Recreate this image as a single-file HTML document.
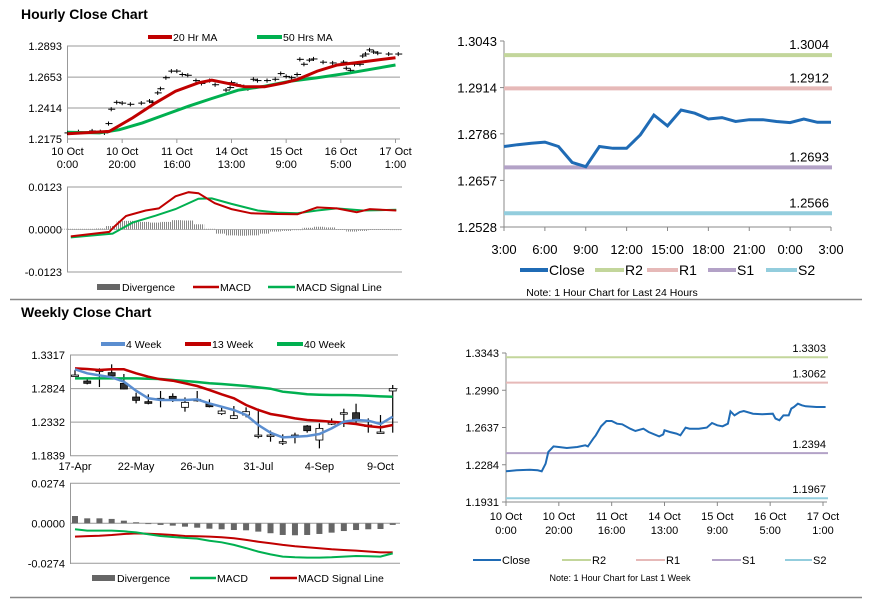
<!DOCTYPE html>
<html><head><meta charset="utf-8">
<style>
body{margin:0;background:#fff;}
svg{display:block;font-family:"Liberation Sans",Arial,sans-serif;}
</style></head>
<body>
<svg id="root" width="873" height="601" viewBox="0 0 873 601" xmlns="http://www.w3.org/2000/svg">
<defs><pattern id="stripes" width="2" height="4" patternUnits="userSpaceOnUse"><rect x="0" y="0" width="1" height="4" fill="#888"/></pattern></defs>
<rect x="0" y="0" width="873" height="601" fill="#fff"/>
<text x="21" y="19" font-size="14" font-weight="bold" fill="#000">Hourly Close Chart</text>
<text x="21" y="317" font-size="14" font-weight="bold" fill="#000">Weekly Close Chart</text>
<line x1="10" y1="299.5" x2="862" y2="299.5" stroke="#888" stroke-width="1.5"/>
<line x1="10" y1="597.5" x2="862" y2="597.5" stroke="#888" stroke-width="1.5"/>
</svg>
<script>
// ---------- Hourly (last week) close series ----------
const hourlyHours = [0,4,9,12,13.5,15,16,18,20,23,27,30,31,33,34,36,38,40,42,44,47,49,52,54,58,59.5,60,62,64.5,66,68,69.5,73,76,78,80,82,84,85,86.5,88.5,90,93.5,97,101,102,103.5,105,107,108,109,110.5,112,113.5,117.5,121];
const hourlyClose = [1.2222,1.2231,1.2237,1.2231,1.2222,1.2294,1.2405,1.2458,1.2452,1.2443,1.2452,1.2468,1.2458,1.2531,1.2563,1.2648,1.2699,1.2699,1.2673,1.2667,1.2626,1.2604,1.2626,1.2594,1.2553,1.2572,1.2610,1.2594,1.2579,1.2563,1.2636,1.2626,1.2626,1.2636,1.2680,1.2658,1.2648,1.2673,1.2790,1.2752,1.2784,1.2793,1.2768,1.2762,1.2768,1.2721,1.2705,1.2752,1.2752,1.2816,1.2831,1.2863,1.2847,1.2838,1.2831,1.2831];
const ma20Hours = [0,5.7,15.3,23.8,32.2,39.5,47.9,52.8,57.6,64.9,72.1,79.4,84.2,91.4,98.7,108.4,120];
const ma20Values = [1.2216,1.2222,1.2234,1.2338,1.2454,1.2544,1.2609,1.2630,1.2609,1.2578,1.2578,1.2609,1.2635,1.2699,1.2746,1.2772,1.2803];
const ma50Hours = [0,11.7,19,27.4,35.9,44.3,52.8,62.4,72.1,81.7,91.4,103.5,120];
const ma50Values = [1.2227,1.2222,1.2247,1.2299,1.2364,1.2428,1.2488,1.2552,1.2583,1.2622,1.2648,1.2686,1.2746];
const hourTickLabels = [["10 Oct","0:00"],["10 Oct","20:00"],["11 Oct","16:00"],["14 Oct","13:00"],["15 Oct","9:00"],["16 Oct","5:00"],["17 Oct","1:00"]];
const hourTickHours = [0,20,40,60,80,100,120];
const h1YTicks = [1.2893,1.2653,1.2414,1.2175];
const macdHHours = [1.2,15.3,17.1,21.4,28.6,33.4,39.5,44.3,47.9,53.9,60,67.2,76.8,84.1,91.3,98.5,105.8,110.6,120.3];
const macdHValues = [-0.0020,-0.0007,0.0008,0.0039,0.0055,0.0061,0.0096,0.0108,0.0105,0.0076,0.0059,0.0047,0.0045,0.0044,0.0064,0.0061,0.0050,0.0059,0.0055];
const sigHHours = [1.2,16.5,23.8,32.2,39.5,47.9,52.8,60,69.6,76.8,84.1,91.3,98.5,108.2,120.3];
const sigHValues = [-0.0023,-0.0012,0.0020,0.0040,0.0059,0.0089,0.0090,0.0074,0.0055,0.0049,0.0047,0.0055,0.0061,0.0055,0.0057];
const divHHours = [0,4,8,12,16,20,24,28,32,36,40,44,48,52,56,60,64,68,72,76,80,84,88,92,96,100,104,108,112,116,120];
const divHValues = [0.0002,0.0002,0.0002,0.0003,0.0010,0.0025,0.0025,0.0022,0.0020,0.0022,0.0027,0.0026,0.0015,0.0002,-0.0012,-0.0017,-0.0018,-0.0017,-0.0012,-0.0006,-0.0004,-0.0002,0.0005,0.0008,0.0006,0.0001,-0.0006,-0.0004,0.0001,0.0001,0.0000];
const macdHTicks = [0.0123,0.0000,-0.0123];
const macdHTickLabels = ["0.0123","0.0000","-0.0123"];

// ---------- 24h chart ----------
const dayLabels = ["3:00","6:00","9:00","12:00","15:00","18:00","21:00","0:00","3:00"];
const dayClose = [1.2751,1.2756,1.2760,1.2763,1.2751,1.2707,1.2695,1.2751,1.2746,1.2746,1.2783,1.2838,1.2808,1.2852,1.2843,1.2827,1.2831,1.2820,1.2825,1.2825,1.2820,1.2817,1.2827,1.2818,1.2818];
const dayYTicks = [1.3043,1.2914,1.2786,1.2657,1.2528];
const dayLevels = [1.3004,1.2912,1.2693,1.2566];
const weekLevels = [1.3303,1.3062,1.2394,1.1967];
const levelNames = ["R2","R1","S1","S2"];
const weekYTicks = [1.3343,1.2990,1.2637,1.2284,1.1931];

// ---------- Weekly ----------
const weekLabels = ["17-Apr","22-May","26-Jun","31-Jul","4-Sep","9-Oct"];
const weekLabelIdx = [0,5,10,15,20,25];
const wOpen  = [1.3023,1.2935,1.3097,1.3058,1.2901,1.2700,1.2632,1.2681,1.2710,1.2549,1.2666,1.2598,1.2456,1.2387,1.2436,1.2142,1.2142,1.2045,1.2142,1.2275,1.2069,1.2324,1.2470,1.2470,1.2289,1.2187,1.2789];
const wClose = [1.3023,1.2901,1.3097,1.3009,1.2818,1.2651,1.2607,1.2681,1.2676,1.2622,1.2666,1.2558,1.2495,1.2426,1.2485,1.2142,1.2142,1.2045,1.2142,1.2206,1.2240,1.2324,1.2470,1.2353,1.2289,1.2187,1.2823];
const wHigh  = [1.3097,1.2960,1.3122,1.3180,1.3038,1.2764,1.2740,1.2789,1.2754,1.2695,1.2789,1.2666,1.2549,1.2568,1.2549,1.2529,1.2207,1.2153,1.2177,1.2289,1.2314,1.2387,1.2529,1.2602,1.2387,1.2436,1.2877];
const wLow   = [1.3009,1.2886,1.2847,1.2974,1.2813,1.2607,1.2593,1.2549,1.2627,1.2485,1.2632,1.2548,1.2436,1.2377,1.2402,1.2094,1.2045,1.1996,1.2020,1.2177,1.1947,1.2289,1.2260,1.2323,1.2177,1.2177,1.2177];
const ma4w  = [1.3107,1.3048,1.3018,1.2989,1.2925,1.2793,1.2681,1.2656,1.2656,1.2656,1.2666,1.2607,1.2558,1.2510,1.2436,1.2289,1.2177,1.2108,1.2118,1.2128,1.2157,1.2240,1.2338,1.2363,1.2353,1.2304,1.2412];
const ma13w = [1.3121,1.3111,1.3097,1.3107,1.3107,1.3048,1.2999,1.2960,1.2940,1.2901,1.2862,1.2803,1.2740,1.2681,1.2583,1.2510,1.2451,1.2421,1.2387,1.2363,1.2353,1.2338,1.2323,1.2304,1.2274,1.2255,1.2289];
const ma40w = [1.2974,1.2974,1.2974,1.2974,1.2974,1.2974,1.2969,1.2965,1.2950,1.2935,1.2920,1.2901,1.2891,1.2876,1.2862,1.2842,1.2822,1.2779,1.2760,1.2740,1.2735,1.2730,1.2730,1.2725,1.2720,1.2710,1.2705];
const wYTicks = [1.3317,1.2824,1.2332,1.1839];
const wDiv  = [0.0050,0.0034,0.0034,0.0030,0.0018,0.0007,-0.0005,-0.0011,-0.0016,-0.0023,-0.0030,-0.0037,-0.0041,-0.0046,-0.0048,-0.0057,-0.0068,-0.0080,-0.0082,-0.0080,-0.0073,-0.0064,-0.0053,-0.0046,-0.0041,-0.0039,-0.0011];
const wMacd = [-0.0041,-0.0050,-0.0050,-0.0050,-0.0055,-0.0062,-0.0075,-0.0087,-0.0094,-0.0100,-0.0105,-0.0119,-0.0130,-0.0148,-0.0170,-0.0194,-0.0213,-0.0228,-0.0233,-0.0235,-0.0235,-0.0233,-0.0228,-0.0224,-0.0226,-0.0228,-0.0206];
const wSig  = [-0.0091,-0.0088,-0.0085,-0.0080,-0.0073,-0.0069,-0.0071,-0.0075,-0.0080,-0.0087,-0.0089,-0.0091,-0.0096,-0.0103,-0.0114,-0.0126,-0.0137,-0.0148,-0.0157,-0.0164,-0.0171,-0.0178,-0.0183,-0.0187,-0.0193,-0.0199,-0.0199];
const wMacdTicks = [0.0274,0.0000,-0.0274];
const wMacdTickLabels = ["0.0274","0.0000","-0.0274"];

const NS="http://www.w3.org/2000/svg";
const root=document.getElementById('root');
function mk(tag,a){const e=document.createElementNS(NS,tag);for(const k in a)e.setAttribute(k,a[k]);root.appendChild(e);return e;}
function txt(x,y,s,size,anchor){const e=mk('text',{x:x,y:y,'font-size':size,'text-anchor':anchor||'start',fill:'#000'});e.textContent=s;return e;}
function pts(xs,ys,fx,fy){return xs.map((v,i)=>fx(v).toFixed(1)+','+fy(ys[i]).toFixed(1)).join(' ');}
let el;

// ===== Hourly candle chart =====
const h1x=h=>67.5+h/120*(395.5-67.5);
const h1y=v=>46+(1.2893-v)/0.0718*93;
h1YTicks.forEach((t,i)=>{
  el=mk('line',{x1:67,y1:h1y(t),x2:400,y2:h1y(t),stroke:'#999','stroke-width':1});
  
  
  el=txt(62,h1y(t)+4,t.toFixed(4),11,'end');
  
  
});
el=mk('line',{x1:67.5,y1:46,x2:67.5,y2:139,stroke:'#999'});


hourTickHours.forEach((h,i)=>{
  el=mk('line',{x1:h1x(h),y1:139,x2:h1x(h),y2:143,stroke:'#999'});
  
  
  el=txt(h1x(h),155,hourTickLabels[i][0],11,'middle');
  
  
  el=txt(h1x(h),168,hourTickLabels[i][1],11,'middle');
  
  
});
hourlyHours.forEach((h,i)=>{
  const v=hourlyClose[i];
  el=mk('line',{x1:h1x(h),y1:h1y(v+0.0016),x2:h1x(h),y2:h1y(v-0.0016),stroke:'#000','stroke-width':1});
  
  
  el=mk('line',{x1:h1x(h)-3,y1:h1y(v),x2:h1x(h)+4,y2:h1y(v),stroke:'#000','stroke-width':1});
  
  
});
el=mk('polyline',{points:pts(ma50Hours,ma50Values,h1x,h1y),fill:'none',stroke:'#00b050','stroke-width':3});


el=mk('polyline',{points:pts(ma20Hours,ma20Values,h1x,h1y),fill:'none',stroke:'#c00000','stroke-width':3});


el=mk('line',{x1:148,y1:37,x2:172,y2:37,stroke:'#c00000','stroke-width':4});


el=txt(173,41,'20 Hr MA',10.5);


el=mk('line',{x1:257,y1:37,x2:282,y2:37,stroke:'#00b050','stroke-width':4});


el=txt(283,41,'50 Hrs MA',10.5);



// ===== Hourly MACD =====
const m1y=v=>229.5-v/0.0123*42.5;
macdHTicks.forEach((t,i)=>{
  el=mk('line',{x1:67,y1:m1y(t),x2:402,y2:m1y(t),stroke:i===1?'#bbb':'#999','stroke-width':1});
  
  
  el=txt(62,m1y(t)+4,macdHTickLabels[i],11,'end');
  
  
});
el=mk('line',{x1:67.5,y1:187,x2:67.5,y2:272,stroke:'#999'});


divHHours.forEach((h,i)=>{
  const v=divHValues[i];
  el=mk('rect',{x:h1x(h)-5.5,y:Math.min(m1y(v),m1y(0)),width:11,height:Math.max(0.6,Math.abs(m1y(v)-m1y(0))),fill:'url(#stripes)'});
  
  
});
el=mk('polyline',{points:pts(sigHHours,sigHValues,h1x,m1y),fill:'none',stroke:'#00b050','stroke-width':2});


el=mk('polyline',{points:pts(macdHHours,macdHValues,h1x,m1y),fill:'none',stroke:'#c00000','stroke-width':2});


el=mk('rect',{x:97,y:284,width:23,height:6,fill:'#666'});


el=txt(122,291,'Divergence',10.5);


el=mk('line',{x1:193,y1:287,x2:219,y2:287,stroke:'#c00000','stroke-width':2.5});


el=txt(220,291,'MACD',10.5);


el=mk('line',{x1:268,y1:287,x2:295,y2:287,stroke:'#00b050','stroke-width':2.5});


el=txt(296,291,'MACD Signal Line',10.5);



const levelColors={R2:'#c3d69b',R1:'#e6b9b8',S1:'#b3a2c7',S2:'#93cddd'};

// ===== 24h chart =====
const dx=i=>504+i*(831-504)/24;
const dy=v=>41+(1.3043-v)/0.0515*186;
el=mk('line',{x1:504,y1:41,x2:504,y2:227,stroke:'#888'});


el=mk('line',{x1:504,y1:227,x2:831,y2:227,stroke:'#888'});


dayYTicks.forEach(t=>{
  el=mk('line',{x1:500,y1:dy(t),x2:504,y2:dy(t),stroke:'#888'});
  
  
  el=txt(497,dy(t)+5,t.toFixed(4),13,'end');
  
  
});
dayLabels.forEach((s,i)=>{
  el=mk('line',{x1:dx(i*3),y1:227,x2:dx(i*3),y2:231,stroke:'#888'});
  
  
  el=txt(dx(i*3),254,s,13,'middle');
  
  
});
dayLevels.forEach((v,i)=>{
  el=mk('line',{x1:504,y1:dy(v),x2:832,y2:dy(v),stroke:levelColors[levelNames[i]],'stroke-width':4});
  
  
  el=txt(829,dy(v)-6,v.toFixed(4),13,'end');
  
  
});
el=mk('polyline',{points:pts(dayClose.map((v,i)=>i),dayClose,dx,dy),fill:'none',stroke:'#1f6bb5','stroke-width':3});


const dayLeg=[['Close','#1f6bb5',520,548],['R2',levelColors.R2,595,624],['R1',levelColors.R1,647,678],['S1',levelColors.S1,708,736],['S2',levelColors.S2,766,797]];
dayLeg.forEach(l=>{
  el=mk('line',{x1:l[2],y1:270,x2:l[3],y2:270,stroke:l[1],'stroke-width':4});
  
  
  el=txt(l[3]+1,275,l[0],14);
  
  
});
el=txt(612,296,'Note: 1 Hour Chart for Last 24 Hours',10.5,'middle');



// ===== Weekly candle chart =====
const wx=i=>75+i*12.22;
const wy=v=>355+(1.3317-v)/0.1478*100.7;
wYTicks.forEach(t=>{
  el=mk('line',{x1:70,y1:wy(t),x2:398,y2:wy(t),stroke:'#999'});
  
  
  el=txt(65,wy(t)+4,t.toFixed(4),11,'end');
  
  
});
el=mk('line',{x1:70.5,y1:355,x2:70.5,y2:456,stroke:'#999'});


weekLabels.forEach((s,i)=>{
  el=txt(wx(weekLabelIdx[i]),470,s,11,'middle');
  
  
});
wOpen.forEach((o,i)=>{
  const c=wClose[i];
  el=mk('line',{x1:wx(i),y1:wy(wHigh[i]),x2:wx(i),y2:wy(wLow[i]),stroke:'#000','stroke-width':1.2});
  
  
  const top=wy(Math.max(o,c)),bot=wy(Math.min(o,c));
  el=mk('rect',{x:wx(i)-3.5,y:top,width:7,height:Math.max(1.5,bot-top),fill:c<o?'#333':'#fff',stroke:'#000','stroke-width':0.8});
  
  
});
const idx=wOpen.map((v,i)=>i);
el=mk('polyline',{points:pts(idx,ma40w,wx,wy),fill:'none',stroke:'#00b050','stroke-width':2.5});


el=mk('polyline',{points:pts(idx,ma13w,wx,wy),fill:'none',stroke:'#c00000','stroke-width':2.5});


el=mk('polyline',{points:pts(idx,ma4w,wx,wy),fill:'none',stroke:'#5b8ed0','stroke-width':2.5});


const wLeg=[['4 Week','#5b8ed0',101,125],['13 Week','#c00000',185,211],['40 Week','#00b050',277,303]];
wLeg.forEach(l=>{
  el=mk('line',{x1:l[2],y1:344,x2:l[3],y2:344,stroke:l[1],'stroke-width':4});
  
  
  el=txt(l[3]+1,348,l[0],10.5);
  
  
});

// ===== Weekly MACD =====
const wmy=v=>523.3-v/0.0274*40;
wMacdTicks.forEach((t,i)=>{
  el=mk('line',{x1:70,y1:wmy(t),x2:400,y2:wmy(t),stroke:'#999'});
  
  
  el=txt(65,wmy(t)+4,wMacdTickLabels[i],11,'end');
  
  
});
el=mk('line',{x1:70.5,y1:483,x2:70.5,y2:564,stroke:'#999'});


wDiv.forEach((v,i)=>{
  el=mk('rect',{x:wx(i)-3,y:Math.min(wmy(v),wmy(0)),width:6,height:Math.max(0.8,Math.abs(wmy(v)-wmy(0))),fill:'#666'});
  
  
});
el=mk('polyline',{points:pts(idx,wSig,wx,wmy),fill:'none',stroke:'#c00000','stroke-width':2});


el=mk('polyline',{points:pts(idx,wMacd,wx,wmy),fill:'none',stroke:'#00b050','stroke-width':2});


el=mk('rect',{x:92,y:575,width:23,height:6,fill:'#666'});


el=txt(117,582,'Divergence',10.5);


el=mk('line',{x1:190,y1:578,x2:216,y2:578,stroke:'#00b050','stroke-width':2.5});


el=txt(217,582,'MACD',10.5);


el=mk('line',{x1:270,y1:578,x2:297,y2:578,stroke:'#c00000','stroke-width':2.5});


el=txt(298,582,'MACD Signal Line',10.5);



// ===== 1 week hourly line chart =====
const rx=h=>506+h/120*(823-506);
const ry=v=>353+(1.3343-v)/0.1412*149;
el=mk('line',{x1:506,y1:353,x2:506,y2:502,stroke:'#888'});


el=mk('line',{x1:506,y1:502,x2:827,y2:502,stroke:'#888'});


weekYTicks.forEach(t=>{
  el=mk('line',{x1:502,y1:ry(t),x2:506,y2:ry(t),stroke:'#888'});
  
  
  el=txt(499,ry(t)+4,t.toFixed(4),11,'end');
  
  
});
hourTickHours.forEach((h,i)=>{
  el=mk('line',{x1:rx(h),y1:502,x2:rx(h),y2:506,stroke:'#888'});
  
  
  el=txt(rx(h),520,hourTickLabels[i][0],11,'middle');
  
  
  el=txt(rx(h),534,hourTickLabels[i][1],11,'middle');
  
  
});
weekLevels.forEach((v,i)=>{
  el=mk('line',{x1:506,y1:ry(v),x2:828,y2:ry(v),stroke:levelColors[levelNames[i]],'stroke-width':2});
  
  
  el=txt(826,ry(v)-5,v.toFixed(4),11,'end');
  
  
});
el=mk('polyline',{points:pts(hourlyHours,hourlyClose,rx,ry),fill:'none',stroke:'#1f6bb5','stroke-width':2});


const wkLeg=[['Close','#1f6bb5',473,501],['R2',levelColors.R2,562,591],['R1',levelColors.R1,636,665],['S1',levelColors.S1,712,741],['S2',levelColors.S2,785,812]];
wkLeg.forEach(l=>{
  el=mk('line',{x1:l[2],y1:560,x2:l[3],y2:560,stroke:l[1],'stroke-width':2});
  
  
  el=txt(l[3]+1,564,l[0],11);
  
  
});
el=txt(620,581,'Note: 1 Hour Chart for Last 1 Week',9,'middle');


</script>
</body></html>
